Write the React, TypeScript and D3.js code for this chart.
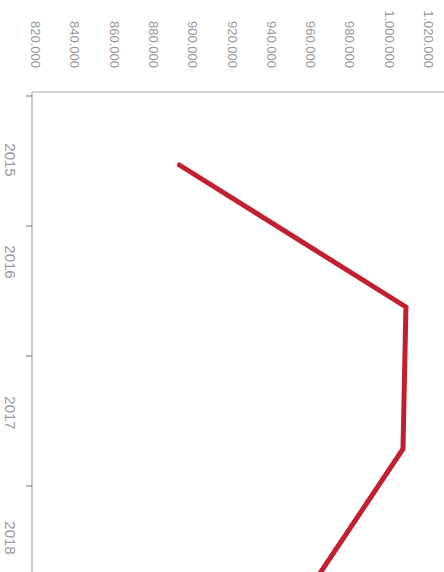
import React, { useEffect, useRef } from 'react';
import * as d3 from 'd3';

const years = ['2015', '2016', '2017', '2018'];
const values = [895000, 1010300, 1008800, 960500];
const valueTicks = [820000, 840000, 860000, 880000, 900000, 920000, 940000, 960000, 980000, 1000000, 1020000];

const W = 444;
const H = 572;

const fmt = (v: number) => d3.format(',')(v).replace(/,/g, '.');

const App: React.FC = () => {
  const svgRef = useRef<SVGSVGElement>(null);

  useEffect(() => {
    if (!svgRef.current) return;
    const svg = d3.select(svgRef.current);
    svg.selectAll('*').remove();

    const left = 32;
    const top = 92;

    // value axis runs left -> right (chart is turned on its side)
    const x = d3.scaleLinear().domain([820000, 1020000]).range([left, 425]);

    // category axis runs top -> bottom
    const band = d3.scaleBand().domain(years).range([96, 96 + 130 * years.length]);
    const pts = d3.scalePoint().domain(years).range([165, 591]);
    // the labels in the source sit unevenly inside their bands
    const labelNudge = [-1, -29, -8, -13];

    // frame lines
    svg.append('line')
      .attr('x1', left).attr('x2', W)
      .attr('y1', top).attr('y2', top)
      .attr('stroke', '#c8c8c8').attr('stroke-width', 1.5);
    svg.append('line')
      .attr('x1', left).attr('x2', left)
      .attr('y1', top).attr('y2', H)
      .attr('stroke', '#bdbdbd').attr('stroke-width', 1.5);

    // category ticks
    svg.selectAll('.ctick')
      .data(years)
      .enter()
      .append('line')
      .attr('class', 'ctick')
      .attr('x1', 26).attr('x2', left)
      .attr('y1', d => band(d)!).attr('y2', d => band(d)!)
      .attr('stroke', '#777').attr('stroke-width', 1);

    // category labels
    svg.selectAll('.clabel')
      .data(years)
      .enter()
      .append('text')
      .attr('class', 'clabel')
      .attr('transform', (d, i) => `translate(5,${band(d)! + band.bandwidth() / 2 + labelNudge[i]}) rotate(90)`)
      .attr('text-anchor', 'middle')
      .style('font-family', '"Liberation Sans", Arial, sans-serif')
      .style('font-size', '15px')
      .style('fill', '#9a9a9a')
      .text(d => d);

    // value labels
    svg.selectAll('.vlabel')
      .data(valueTicks)
      .enter()
      .append('text')
      .attr('class', 'vlabel')
      .attr('transform', d => `translate(${x(d) - 1},68) rotate(90)`)
      .attr('text-anchor', 'end')
      .style('font-family', '"Liberation Sans", Arial, sans-serif')
      .style('font-size', '13px')
      .style('fill', '#9a9a9a')
      .text(d => fmt(d));

    // series line
    const line = d3.line<number>()
      .x(d => x(d))
      .y((_, i) => pts(years[i])!);

    svg.append('path')
      .datum(values)
      .attr('d', line)
      .attr('fill', 'none')
      .attr('stroke', '#c21f30')
      .attr('stroke-width', 5)
      .attr('stroke-linecap', 'round')
      .attr('stroke-linejoin', 'miter');
  }, []);

  return (
    <div style={{ position: 'absolute', left: 0, top: 0, width: W, height: H, overflow: 'hidden', background: '#fff' }}>
      <svg ref={svgRef} width={W} height={H} style={{ display: 'block' }} />
    </div>
  );
};

export default App;
